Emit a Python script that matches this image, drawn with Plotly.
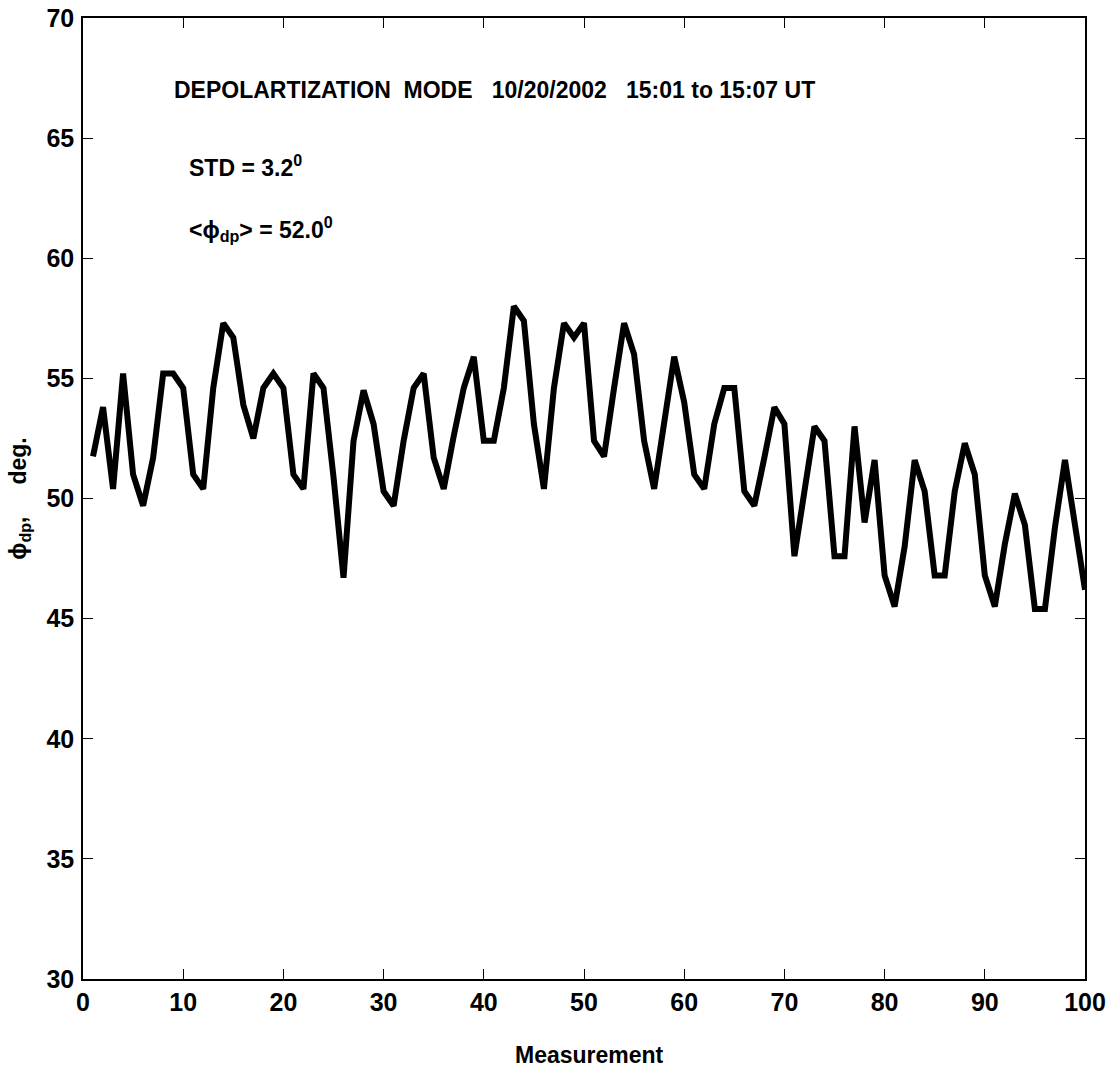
import plotly.graph_objects as go

measurement = list(range(1, 101))
phi_dp = [
    51.75, 53.8, 50.4, 55.2, 51.0, 49.7, 51.7, 55.2, 55.2, 54.6,
    51.0, 50.4, 54.6, 57.3, 56.7, 53.9, 52.5, 54.6, 55.2, 54.6,
    51.0, 50.4, 55.2, 54.6, 50.9, 46.7, 52.4, 54.5, 53.1, 50.3,
    49.7, 52.4, 54.6, 55.2, 51.7, 50.4, 52.6, 54.6, 55.9, 52.4,
    52.4, 54.6, 58.0, 57.4, 53.1, 50.4, 54.6, 57.3, 56.7, 57.3,
    52.4, 51.75, 54.6, 57.3, 56.0, 52.4, 50.4, 53.1, 55.9, 54.0,
    51.0, 50.4, 53.1, 54.6, 54.6, 50.3, 49.7, 51.7, 53.8, 53.1,
    47.6, 50.3, 53.0, 52.4, 47.6, 47.6, 53.0, 49.0, 51.6, 46.8,
    45.5, 48.0, 51.6, 50.3, 46.8, 46.8, 50.3, 52.3, 51.0, 46.8,
    45.5, 48.1, 50.2, 48.9, 45.4, 45.4, 48.8, 51.6, 48.9, 46.2,
]

x_ticks = [0, 10, 20, 30, 40, 50, 60, 70, 80, 90, 100]
y_ticks = [30, 35, 40, 45, 50, 55, 60, 65, 70]

FONT = "Liberation Sans, Arial"

fig = go.Figure()
fig.add_trace(go.Scatter(
    x=measurement, y=phi_dp, mode="lines",
    line=dict(color="black", width=6),
    showlegend=False, hoverinfo="skip",
))

axis_common = dict(
    showgrid=False, zeroline=False, showline=True, linecolor="black",
    linewidth=1.5, mirror="ticks", ticks="inside", ticklen=10,
    tickwidth=1, tickcolor="black", automargin=False,
    tickfont=dict(family=FONT, size=25, color="black", weight="bold"),
)

fig.update_xaxes(
    range=[0, 100], tickvals=x_ticks, ticktext=[str(v) for v in x_ticks],
    **axis_common,
)
fig.update_yaxes(
    range=[30, 70], tickvals=y_ticks, ticktext=[str(v) for v in y_ticks],
    ticklabelstandoff=2,
    **axis_common,
)

ann_font = dict(family=FONT, size=23, color="black")
# axis titles
fig.add_annotation(xref="paper", yref="paper", x=0.505, y=-0.0795, xanchor="center", yanchor="middle",
                   text="<b>Measurement</b>", showarrow=False, font=ann_font)
fig.add_annotation(xref="paper", yref="paper", x=-0.0635, y=0.5, xanchor="center", yanchor="middle",
                   text="<b>ϕ<sub>dp</sub>,     deg.</b>", textangle=-90, showarrow=False,
                   font=dict(family=FONT, size=23, color="black"))
# in-plot text
fig.add_annotation(xref="paper", yref="paper", x=0.0888, y=0.925, xanchor="left", yanchor="middle",
                   text="<b>DEPOLARTIZATION  MODE   10/20/2002   15:01 to 15:07 UT</b>",
                   showarrow=False, font=ann_font)
fig.add_annotation(xref="paper", yref="paper", x=0.1038, y=0.846, xanchor="left", yanchor="middle",
                   text="<b>STD = 3.2<sup>0</sup></b>", showarrow=False, font=ann_font)
fig.add_annotation(xref="paper", yref="paper", x=0.1038, y=0.780, xanchor="left", yanchor="middle",
                   text="<b>&lt;ϕ<sub>dp</sub>&gt; = 52.0<sup>0</sup></b>", showarrow=False, font=ann_font)

fig.update_layout(
    width=1111, height=1074,
    margin=dict(l=83, r=26, t=18, b=95),
    paper_bgcolor="white", plot_bgcolor="white",
    font=dict(family=FONT, color="black"),
)

fig.write_html("out.html")
